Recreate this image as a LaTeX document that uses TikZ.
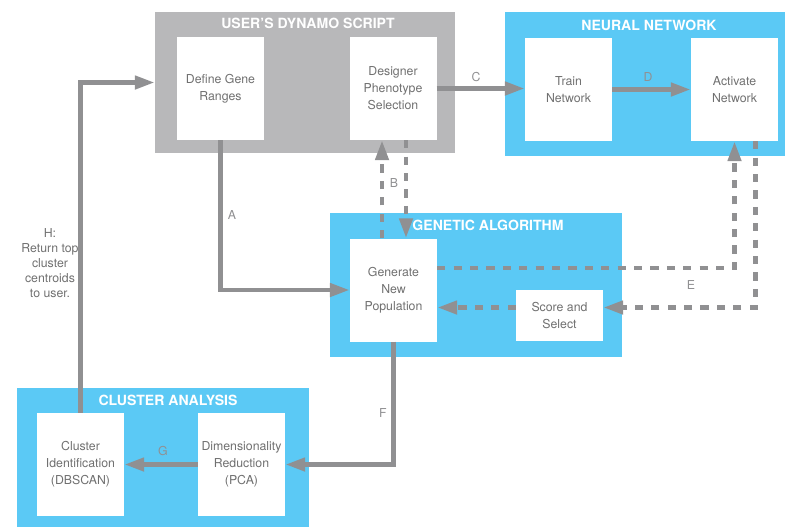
\documentclass[tikz,border=0pt]{standalone}
\usepackage{fontspec}
\setmainfont{TeX Gyre Heros}
\usetikzlibrary{arrows.meta,calc}
\definecolor{groupblue}{HTML}{5BC9F5}
\definecolor{groupgray}{HTML}{B8B8BA}
\definecolor{flowgray}{HTML}{909092}
\definecolor{textgray}{HTML}{707070}

\begin{document}
\begin{tikzpicture}[x=0.03cm, y=-0.03cm,
  group/.style={fill=#1, inner sep=0pt, minimum width=8.76cm, minimum height=4.32cm},
  title/.style={text=white, font=\bfseries\fontsize{12}{14}\selectfont},
  stepbox/.style={fill=white, inner sep=0pt, minimum width=2.61cm, minimum height=3.09cm,
    align=center, text=textgray, font=\fontsize{10.5}{14.5}\selectfont},
  flow/.style={draw=flowgray, line width=4pt, -{Triangle[length=17pt, width=11pt]}},
  dashflow/.style={flow, line width=4pt, dash pattern=on 7pt off 7pt},
  letter/.style={text=flowgray, font=\fontsize{10.5}{12}\selectfont},
]
\useasboundingbox (0,0) rectangle (786,527);

%groups
\node[group=groupgray, minimum width=9cm, minimum height=4.23cm] (script) at (305,82.5) {};
\node[group=groupblue, minimum width=8.4cm] (neural) at (645,84) {};
\node[group=groupblue] (genetic) at (476,285) {};
\node[group=groupblue, minimum height=4.17cm] (cluster) at (163,457.5) {};

\node[title] (script title) at (308,23) {USER'S DYNAMO SCRIPT};
\node[title] (neural title) at (649,25) {NEURAL NETWORK};
\node[title] (genetic title) at (488,225) {GENETIC ALGORITHM};
\node[title] (cluster title) at (168,400) {CLUSTER ANALYSIS};

%steps
\node[stepbox] (define) at (220.5,88.5) {Define Gene\\Ranges};
\node[stepbox] (designer) at (393,88.5) {Designer\\Phenotype\\Selection};
\node[stepbox] (train) at (568.5,89.5) {Train\\Network};
\node[stepbox] (activate) at (734.5,89.5) {Activate\\Network};
\node[stepbox] (gnp) at (393.5,290) {Generate\\New\\Population};
\node[stepbox, minimum height=1.53cm] (score) at (559.5,315.5) {Score and\\Select};
\node[stepbox] (ci) at (80.5,464.5) {Cluster\\Identification\\(DBSCAN)};
\node[stepbox] (dr) at (241.5,464.5) {Dimensionality\\Reduction\\(PCA)};

%A
\draw[flow] (define.south) |- (gnp.west);
\node[letter] (label a) at (232,215) {A};

%B
\draw[dashflow] ($(gnp.north)+(-11.5,0)$) -- ($(designer.south)+(-11,0)$);
\draw[dashflow] ($(designer.south)+(13,0)$) -- ($(gnp.north)+(12.5,0)$);
\node[letter] (label b) at (394,183) {B};

%C and D
\draw[flow] (designer.east) -- (designer.east -| train.west);
\node[letter] (label c) at (476,77) {C};
\draw[flow] (train.east) -- (activate.west);
\node[letter] (label d) at (648,77) {D};

%E
\draw[dashflow] ($(gnp.east)+(0,-22)$) -| (activate.south);
\draw[dashflow] ($(activate.south)+(21,0)$) |- ($(score.east)+(0,-8)$);
\draw[dashflow] ($(score.west)+(0,-8)$) -- ($(gnp.east)+(0,17.5)$);
\node[letter] (label e) at (691,285) {E};

%F and G
\draw[flow] (gnp.south) |- (dr.east);
\node[letter] (label f) at (383,413) {F};
\draw[flow] (dr.west) -- (ci.east);
\node[letter] (label g) at (163,451) {G};

%H
\draw[flow] (ci.north) |- (script.west);
\node[letter, text=textgray, align=center, font=\fontsize{10.5}{12.75}\selectfont] (label h)
  at (50,263) {H:\\Return top\\cluster\\centroids\\to user.};

\end{tikzpicture}
\end{document}
